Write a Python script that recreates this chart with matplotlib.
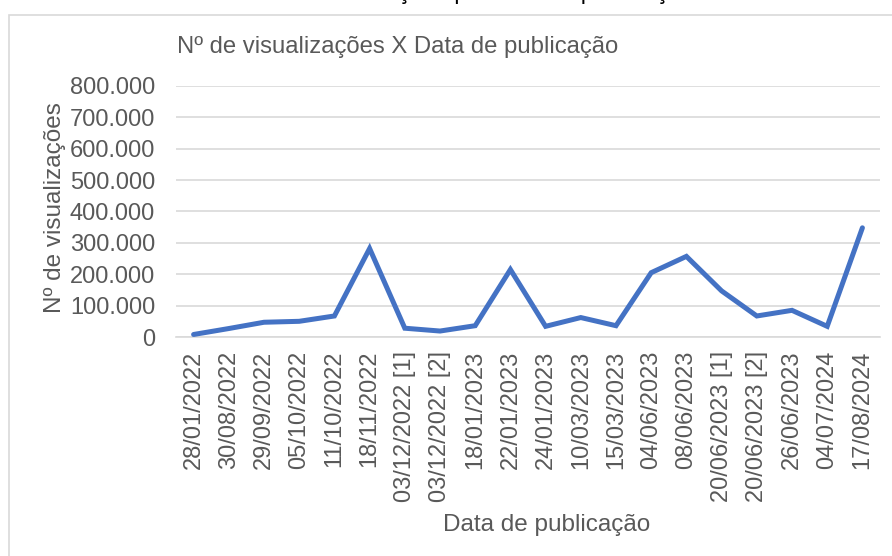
import matplotlib.pyplot as plt
from matplotlib.patches import Rectangle
from matplotlib.ticker import FuncFormatter

plt.rcParams['font.family'] = ['Liberation Sans', 'DejaVu Sans']

# data
datas = ['28/01/2022', '30/08/2022', '29/09/2022', '05/10/2022', '11/10/2022',
         '18/11/2022', '03/12/2022 [1]', '03/12/2022 [2]', '18/01/2023',
         '22/01/2023', '24/01/2023', '10/03/2023', '15/03/2023', '04/06/2023',
         '08/06/2023', '20/06/2023 [1]', '20/06/2023 [2]', '26/06/2023',
         '04/07/2024', '17/08/2024']
visualizacoes = [8000, 27000, 47000, 50000, 67000, 282000, 28000, 19000, 36000,
                 215000, 34000, 62000, 36000, 205000, 257000, 147000, 67000,
                 85000, 34000, 348000]
y_ticks = [0, 100000, 200000, 300000, 400000, 500000, 600000, 700000, 800000]

C_LINE = '#4472C4'
C_TEXT = '#595959'
C_GRID = '#d9d9d9'

fig = plt.figure(figsize=(8.92, 5.56), dpi=100)

# chart frame (screenshot is cut on the right and bottom)
fig.patches.append(Rectangle((9 / 892, -0.05), 1.0, 1 - 15 / 556 + 0.05,
                             transform=fig.transFigure, fill=False,
                             edgecolor=C_GRID, linewidth=1.2))

# caption of the original document, cut by the top of the screenshot
fig.text(125 / 892, 1.0 + 1 / 556, 'Gráfico 3 - Nº de visualizações por data de publicação',
         ha='left', va='baseline', fontsize=17, color='black')

ax = fig.add_axes([176 / 892, 1 - 337 / 556, (880 - 176) / 892, (337 - 86) / 556])

x = list(range(len(datas)))
ax.plot(x, visualizacoes, color=C_LINE, linewidth=3.6, solid_joinstyle='miter',
        solid_capstyle='round', zorder=3)

ax.set_xlim(-0.5, len(datas) - 0.5)
ax.set_ylim(0, 800000)
ax.set_yticks(y_ticks)
ax.yaxis.set_major_formatter(FuncFormatter(lambda v, p: f'{int(v):,}'.replace(',', '.')))
ax.set_xticks(x)
ax.set_xticklabels(datas, rotation=90)

ax.grid(axis='y', color=C_GRID, linewidth=1.2)
ax.set_axisbelow(True)
for s in ['top', 'right', 'left']:
    ax.spines[s].set_visible(False)
ax.spines['bottom'].set_color(C_GRID)
ax.spines['bottom'].set_linewidth(1.2)
ax.tick_params(length=0, labelsize=17, colors=C_TEXT)
ax.tick_params(axis='y', pad=15)
ax.tick_params(axis='x', pad=10)

ax.set_ylabel('Nº de visualizações', fontsize=17.5, color=C_TEXT)
ax.yaxis.set_label_coords((66 - 176) / (880 - 176), (337 - 208) / (337 - 86))
ax.set_xlabel('Data de publicação', fontsize=17.5, color=C_TEXT)
ax.xaxis.set_label_coords((547 - 176) / (880 - 176), -(514 - 337) / (337 - 86))

fig.text(398 / 892, 1 - 47 / 556, 'Nº de visualizações X Data de publicação',
         ha='center', va='center', fontsize=17.2, color=C_TEXT)

fig.savefig('out.png', dpi=100)
plt.close(fig)
